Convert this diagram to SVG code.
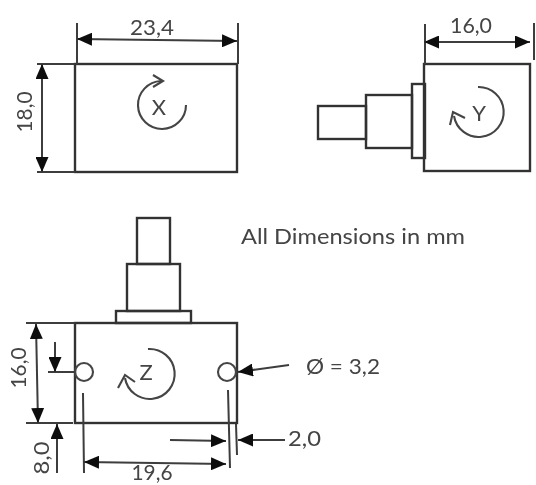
<svg xmlns="http://www.w3.org/2000/svg" width="536" height="485" viewBox="0 0 536 485">
<style>
.b{fill:none;stroke:#333;stroke-width:2.4}
.d{fill:none;stroke:#3c3c3c;stroke-width:2}
.a{fill:none;stroke:#3c3c3c;stroke-width:2;marker-end:url(#ah)}
.aa{fill:none;stroke:#3c3c3c;stroke-width:2;marker-start:url(#ahs);marker-end:url(#ah)}
.r{fill:none;stroke:#444;stroke-width:2.1}
text{font-family:"Lato","Open Sans",sans-serif;fill:#444;font-size:22px}
</style>
<defs>
<filter id="s" x="-5%" y="-5%" width="110%" height="110%"><feGaussianBlur stdDeviation="0.7"/></filter>
<marker id="ah" viewBox="0 0 15 13" refX="15" refY="6.5" markerWidth="15" markerHeight="13" markerUnits="userSpaceOnUse" orient="auto"><path d="M0 0L15 6.5L0 13Z" fill="#111"/></marker>
<marker id="ahs" viewBox="0 0 15 13" refX="0" refY="6.5" markerWidth="15" markerHeight="13" markerUnits="userSpaceOnUse" orient="auto"><path d="M15 0L0 6.5L15 13Z" fill="#111"/></marker>
</defs>
<rect width="536" height="485" fill="#fff"/>
<g filter="url(#s)">
<g id="view-x">
<rect class="b" x="75" y="64" width="162" height="108"/>
<path class="r" d="M186 105A24 24 0 1 1 161 81"/>
<path class="r" d="M153 75L163 81L153 87"/>
<text x="159" y="115" text-anchor="middle" font-size="25">X</text>
</g>
<g id="view-y">
<rect class="b" x="424" y="64" width="106" height="107"/>
<rect class="b" x="412" y="84" width="13" height="74"/>
<rect class="b" x="366" y="95" width="46" height="53"/>
<rect class="b" x="318" y="106" width="48" height="33"/>
<path class="r" d="M478 87A25 25 0 1 1 454 116"/>
<path class="r" d="M450 125L453 112L465 118"/>
<text x="479" y="121" text-anchor="middle" font-size="25">Y</text>
</g>
<g id="view-z">
<rect class="b" x="75" y="323" width="162" height="100"/>
<rect class="b" x="116" y="311" width="75" height="12"/>
<rect class="b" x="127" y="264" width="53" height="47"/>
<rect class="b" x="137" y="218" width="33" height="46"/>
<circle class="r" cx="84" cy="372" r="9"/>
<circle class="r" cx="227" cy="372" r="9"/>
<path class="r" d="M148 349A25 25 0 1 1 125 378"/>
<path class="r" d="M118 388L125 375L135 382"/>
<text x="146" y="380" text-anchor="middle" font-size="25">Z</text>
</g>
<g id="connectors">
<path class="d" d="M77 23V64M238 23V64M37 64H75M37 172H75"/>
<path class="aa" d="M77 39L237 41"/>
<path class="aa" d="M42 64L42 172"/>
<path class="d" d="M425 24V64M534 23V60"/>
<path class="aa" d="M424 42H530"/>
<path class="d" d="M26 323H75M26 423H73M48 372H75"/>
<path class="aa" d="M36 324L38 423"/>
<path class="a" d="M55 342V372"/>
<path class="a" d="M57 473V424"/>
<path class="d" d="M83 393L84 473M228 390L230 468M236 424L237 455"/>
<path class="aa" d="M84 462L226 464"/>
<path class="a" d="M170 440L226 441"/>
<path class="a" d="M285 440L238 440"/>
<path class="a" d="M289 365L238 372"/>
</g>
<g id="labels">
<text x="152" y="35" text-anchor="middle" textLength="44" lengthAdjust="spacingAndGlyphs">23,4</text>
<text x="471" y="33" text-anchor="middle" textLength="42" lengthAdjust="spacingAndGlyphs">16,0</text>
<text transform="translate(32 112) rotate(-90)" text-anchor="middle" textLength="41" lengthAdjust="spacingAndGlyphs">18,0</text>
<text transform="translate(26 368) rotate(-90)" text-anchor="middle" textLength="41" lengthAdjust="spacingAndGlyphs">16,0</text>
<text transform="translate(49 458) rotate(-90)" text-anchor="middle" textLength="33" lengthAdjust="spacingAndGlyphs">8,0</text>
<text x="152" y="480" text-anchor="middle" font-size="20" textLength="41" lengthAdjust="spacingAndGlyphs">19,6</text>
<text x="241" y="244" font-size="20" textLength="224" lengthAdjust="spacingAndGlyphs">All Dimensions in mm</text>
<text x="306" y="374" textLength="74" lengthAdjust="spacingAndGlyphs">Ø = 3,2</text>
<text x="288" y="446" textLength="33" lengthAdjust="spacingAndGlyphs">2,0</text>
</g>
</g>
</svg>
